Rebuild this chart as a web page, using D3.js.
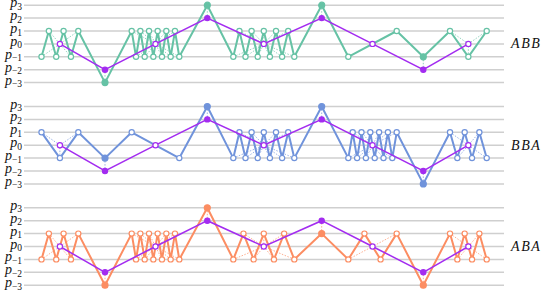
<!DOCTYPE html>
<html>
<head>
<meta charset="utf-8">
<script src="https://cdn.jsdelivr.net/npm/d3@7"></script>
<style>
body { margin: 0; background: #fff; }
svg { display: block; }
</style>
</head>
<body>
<div id="chart"></div>
<script>
// time span of each group (beats), shared by the three rows
const spanStart = [1.75, 8.1, 10.77, 18.33, 20.93, 29.77, 32.43, 39.93, 42.6];
const spanEnd   = [5.43, 8.1, 15.53, 18.33, 27.03, 29.77, 37.27, 39.93, 46.27];

const levels = [3, 2, 1, 0, -1, -2, -3];

const rowNames  = ["ABB", "BBA", "ABA"];
const rowColors = ["#66c2a5", "#7093db", "#fc8d62"];
const centreColor = "#a32cf0";

// note levels inside every group
const abbNotes = [[-1,1,-1,1,-1,1], [-3], [1,-1,1,-1,1,-1,1,-1,1,-1,1,-1], [3],
                  [-1,1,-1,1,-1,1,-1,1,-1,1,-1], [3], [-1,1], [-1], [1,-1,1]];
const bbaNotes = [[1,-1,1], [-1], [1,-1], [3],
                  [-1,1,-1,1,-1,1,-1,1,-1,1,-1], [3], [-1,1,-1,1,-1,1,-1,1,-1,1,-1,1], [-3], [1,-1,1,-1,1,-1]];
const abaNotes = [[-1,1,-1,1,-1,1], [-3], [1,-1,1,-1,1,-1,1,-1,1,-1,1,-1], [3],
                  [-1,1,-1,1,-1,1,-1], [1], [-1,1,-1,1], [-3], [1,-1,1,-1,1,-1]];

// level of the group centre (purple line)
const abbCentre = [0, -2, 0, 2, 0, 2, 0, -2, 0];
const bbaCentre = [0, -2, 0, 2, 0, 2, 0, -2, 0];
const abaCentre = [0, -2, 0, 2, 0, 2, 0, -2, 0];

const rowNotes   = [abbNotes, bbaNotes, abaNotes];
const rowCentres = [abbCentre, bbaCentre, abaCentre];

const width = 544, height = 291, rowH = 101.3;

const svg = d3.select("#chart").append("svg")
    .attr("width", width)
    .attr("height", height);

const x = d3.scaleLinear().domain([0, 48]).range([24, 504]);

rowNames.forEach((name, i) => {
    const y = d3.scaleLinear().domain([3, -3]).range([5.2 + i * rowH, 82.6 + i * rowH]);
    const color = rowColors[i];
    const g = svg.append("g");

    // grid
    g.selectAll(".grid").data(levels).join("line")
        .attr("x1", x(0)).attr("x2", x(48))
        .attr("y1", d => y(d)).attr("y2", d => y(d))
        .attr("stroke", "#cfcfcf")
        .attr("stroke-width", 1.5);

    // level labels p_k
    const lab = g.selectAll(".lab").data(levels).join("text")
        .attr("x", 22)
        .attr("y", d => y(d) + 2)
        .attr("text-anchor", "end")
        .style("font-family", "'Liberation Serif', serif")
        .style("font-style", "italic")
        .style("font-size", "14px")
        .attr("fill", "#111");
    lab.append("tspan").text("p");
    lab.append("tspan")
        .attr("dy", 2.5)
        .style("font-size", "9.5px")
        .style("font-style", "normal")
        .text(d => d < 0 ? "\u2212" + (-d) : d);

    // row name
    g.append("text")
        .attr("x", 511)
        .attr("y", y(0) + 4.5)
        .style("font-family", "'Liberation Serif', serif")
        .style("font-style", "italic")
        .style("font-size", "14px")
        .style("letter-spacing", "1.6px")
        .attr("fill", "#111")
        .text(name);

    const groups = rowNotes[i];
    const centres = groups.map((grp, gi) => ({
        t: (spanStart[gi] + spanEnd[gi]) / 2,
        v: rowCentres[i][gi],
        single: grp.length === 1
    }));
    const notes = groups.flatMap((grp, gi) => grp.map((v, k) => ({
        t: grp.length > 1 ? spanStart[gi] + (spanEnd[gi] - spanStart[gi]) * k / (grp.length - 1) : spanStart[gi],
        v: v,
        single: grp.length === 1,
        gi: gi
    })));

    // dotted links from each note to its group centre
    g.selectAll(".link").data(notes).join("line")
        .attr("x1", d => x(d.t)).attr("y1", d => y(d.v))
        .attr("x2", d => x(centres[d.gi].t)).attr("y2", d => y(centres[d.gi].v))
        .attr("stroke", color)
        .attr("stroke-width", 1)
        .attr("stroke-opacity", 0.7)
        .attr("stroke-dasharray", "1.5,1.5");

    const line = d3.line().x(d => x(d.t)).y(d => y(d.v));

    g.append("path").datum(notes)
        .attr("d", line)
        .attr("fill", "none")
        .attr("stroke", color)
        .attr("stroke-width", 2)
        .attr("stroke-linejoin", "round");

    g.selectAll(".note").data(notes).join("circle")
        .attr("cx", d => x(d.t)).attr("cy", d => y(d.v))
        .attr("r", d => d.single ? 3 : 2.6)
        .attr("fill", d => d.single ? color : "#fff")
        .attr("stroke", color)
        .attr("stroke-width", 1.2);

    g.append("path").datum(centres)
        .attr("d", line)
        .attr("fill", "none")
        .attr("stroke", centreColor)
        .attr("stroke-width", 1.5);

    g.selectAll(".centre").data(centres).join("circle")
        .attr("cx", d => x(d.t)).attr("cy", d => y(d.v))
        .attr("r", 2.6)
        .attr("fill", d => d.single ? centreColor : "#fff")
        .attr("stroke", centreColor)
        .attr("stroke-width", 1.2);
});
</script>
</body>
</html>
